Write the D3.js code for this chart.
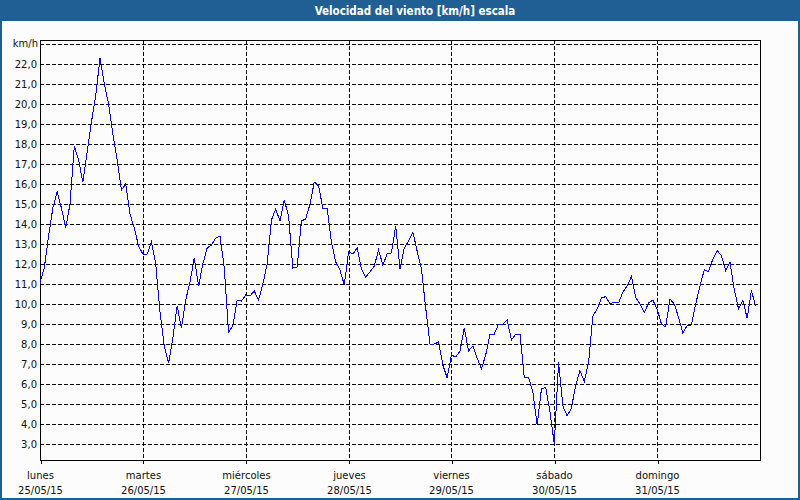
<!DOCTYPE html>
<html><head><meta charset="utf-8">
<script src="https://cdn.jsdelivr.net/npm/d3@7"></script>
<style>html,body{margin:0;padding:0;background:#fff;} svg{display:block}</style>
</head><body><svg id="c" width="800" height="500"></svg>
<script>
const chartTitle = "Velocidad del viento [km/h] escala";
const unitLabel = "km/h";
const dayNames = ["lunes", "martes", "miércoles", "jueves", "viernes", "sábado", "domingo"];
const dayDates = ["25/05/15", "26/05/15", "27/05/15", "28/05/15", "29/05/15", "30/05/15", "31/05/15"];
const yTickValues = [3, 4, 5, 6, 7, 8, 9, 10, 11, 12, 13, 14, 15, 16, 17, 18, 19, 20, 21, 22];
// hourly wind speed, from Monday 25/05/15 00:00
const windSpeed = [
  11.05, 11.8, 13.4, 14.8, 15.6, 14.8, 13.8, 15.0, 17.9, 17.2, 16.1, 17.6, 19.1, 20.4, 22.3, 21.0, 20.0, 18.5, 17.2, 15.7, 16.0, 14.5, 13.8, 12.9,
  12.5, 12.5, 13.1, 12.0, 9.6, 7.9, 7.05, 8.3, 9.9, 8.8, 10.2, 11.1, 12.3, 10.9, 12.0, 12.8, 12.95, 13.3, 13.4, 11.8, 8.6, 8.9, 10.2, 10.15,
  10.45, 10.4, 10.65, 10.2, 11.0, 12.0, 14.2, 14.75, 14.15, 15.2, 14.4, 11.8, 11.85, 14.15, 14.25, 15.0, 16.1, 15.9, 14.8, 14.8, 13.1, 12.1, 11.7, 10.95,
  12.6, 12.5, 12.8, 11.75, 11.35, 11.6, 11.9, 12.7, 11.95, 12.5, 12.55, 13.9, 11.75, 12.8, 13.15, 13.6, 12.65, 11.75, 9.8, 8.0, 8.0, 8.1, 6.95, 6.3,
  7.45, 7.35, 7.65, 8.8, 7.65, 7.9, 7.3, 6.75, 7.45, 8.5, 8.5, 9.0, 9.0, 9.2, 8.2, 8.5, 8.5, 6.33, 6.33, 5.6, 3.95, 5.75, 5.83, 4.6,
  3.0, 7.1, 4.9, 4.4, 4.8, 5.95, 6.67, 6.12, 7.08, 9.4, 9.75, 10.3, 10.37, 10.0, 10.1, 10.05, 10.6, 10.9, 11.37, 10.33, 10.0, 9.58, 10.05, 10.2,
  9.75, 9.0, 8.85, 10.25, 10.0, 9.33, 8.55, 8.92, 8.95, 10.0, 10.9, 11.72, 11.62, 12.25, 12.67, 12.42, 11.67, 12.08, 10.72, 9.75, 10.2, 9.28, 10.67, 9.88
];

const W = 800, H = 500;
const svg = d3.select("#c");
const t0 = new Date(2015, 4, 25, 0, 0);
const t1 = new Date(2015, 5, 1, 0, 0);
const x = d3.scaleTime().domain([t0, t1]).range([40, 760]);
const y = d3.scaleLinear().domain([2.2, 23.2]).range([460, 40]);
const days = d3.range(dayNames.length).map(i => d3.timeDay.offset(t0, i));
const pts = windSpeed.map((v, i) => ({t: d3.timeHour.offset(t0, i), v}));

const blue = "#1f5f94";
const font = "'DejaVu Sans', sans-serif";

svg.append("rect").attr("width", W).attr("height", H).attr("fill", "#fbfcfb");
svg.append("rect").attr("x", 0).attr("y", 0).attr("width", W).attr("height", 21).attr("fill", blue);
svg.append("rect").attr("x", 1).attr("y", 1).attr("width", W - 2).attr("height", H - 2)
  .attr("fill", "none").attr("stroke", blue).attr("stroke-width", 2);
svg.append("text").attr("x", 415).attr("y", 15).attr("text-anchor", "middle")
  .attr("font-family", "'DejaVu Sans Condensed', 'DejaVu Sans', sans-serif")
  .attr("font-weight", "bold").attr("font-size", 11.5)
  .attr("fill", "#fff").text(chartTitle);

const g = svg.append("g").attr("shape-rendering", "crispEdges");

// horizontal dashed gridlines
g.selectAll(".hg").data(yTickValues.concat([23])).enter().append("line")
  .attr("x1", 40).attr("x2", 760)
  .attr("y1", d => Math.round(y(d)) + 0.5).attr("y2", d => Math.round(y(d)) + 0.5)
  .attr("stroke", "#000").attr("stroke-dasharray", "4,2");
// vertical dashed gridlines
g.selectAll(".vg").data(days.slice(1)).enter().append("line")
  .attr("x1", d => Math.round(x(d)) + 0.5).attr("x2", d => Math.round(x(d)) + 0.5)
  .attr("y1", 40).attr("y2", 460)
  .attr("stroke", "#000").attr("stroke-dasharray", "4,2");

// frame
g.append("rect").attr("x", 40.5).attr("y", 40.5).attr("width", 720).attr("height", 420)
  .attr("fill", "none").attr("stroke", "#000");

// x axis
const xAxis = d3.axisBottom(x).tickValues(days).tickSize(3).tickFormat(() => "");
const xa = svg.append("g").attr("transform", "translate(0.5,460.5)").call(xAxis);
xa.select(".domain").remove();
xa.selectAll(".tick line").attr("stroke", "#000").attr("shape-rendering", "crispEdges");
days.forEach((d, i) => {
  const t = svg.append("text").attr("x", Math.round(x(d)) + 0.5).attr("text-anchor", "middle")
    .attr("font-family", font).attr("font-size", 10).attr("fill", "#111");
  t.append("tspan").attr("x", Math.round(x(d)) + 0.5).attr("y", 479).text(dayNames[i]);
  t.append("tspan").attr("x", Math.round(x(d)) + 0.5).attr("y", 494).text(dayDates[i]);
});

// y axis labels
const yAxis = d3.axisLeft(y).tickValues(yTickValues).tickSize(0).tickPadding(3)
  .tickFormat(d => d3.format(".1f")(d).replace(".", ","));
const ya = svg.append("g").attr("transform", "translate(40,0)").call(yAxis);
ya.select(".domain").remove();
ya.selectAll("text").attr("font-family", font).attr("font-size", 10).attr("fill", "#111");
svg.append("text").attr("x", 38).attr("y", y(23)).attr("dy", "0.32em").attr("text-anchor", "end")
  .attr("font-family", font).attr("font-size", 10).attr("fill", "#111").text(unitLabel);

// line
const line = d3.line().x(d => x(d.t)).y(d => y(d.v));
svg.append("path").datum(pts).attr("d", line).attr("fill", "none")
  .attr("stroke", "#0000ff").attr("stroke-width", 1).attr("shape-rendering", "crispEdges");
</script></body></html>
